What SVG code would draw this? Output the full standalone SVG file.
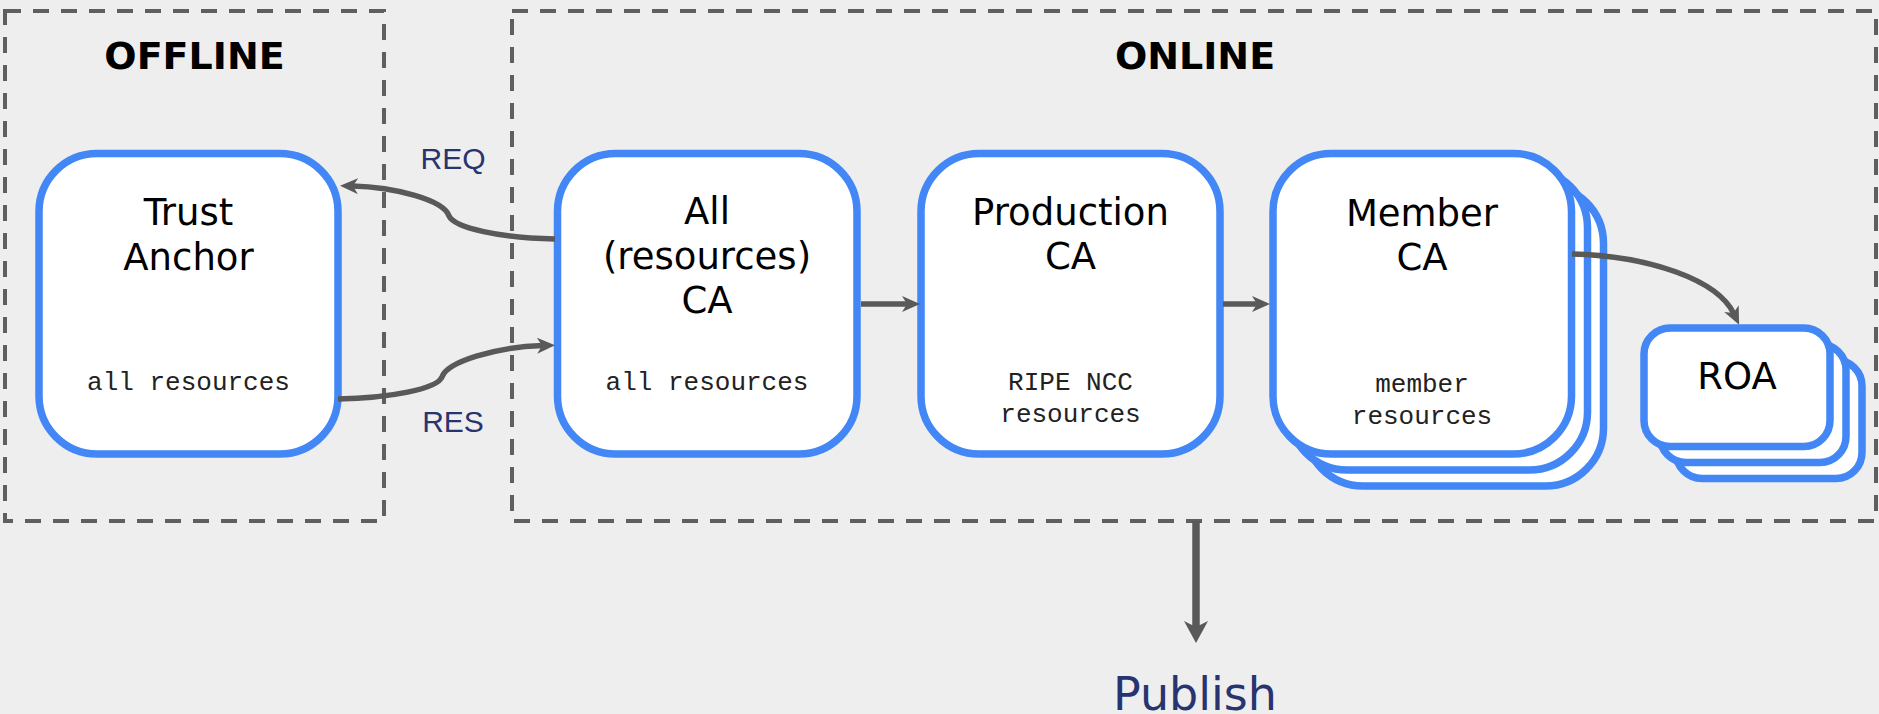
<svg xmlns="http://www.w3.org/2000/svg" width="1879" height="714" viewBox="0 0 1879 714">
<style>
.bg{fill:#eeeeee}
.zone{fill:none;stroke:#5f5f5f;stroke-width:4;stroke-dasharray:16 12}
.box{fill:#ffffff;stroke:#4287f5;stroke-width:7.5}
.title{font-family:"DejaVu Sans",sans-serif;font-weight:bold;font-size:38px;fill:#000;text-anchor:middle}
.name{font-family:"DejaVu Sans",sans-serif;font-size:37px;fill:#000;text-anchor:middle}
.res{font-family:"Liberation Mono",monospace;font-size:26px;fill:#222;text-anchor:middle}
.lbl{font-family:"Liberation Sans",sans-serif;font-size:30px;fill:#283470;text-anchor:middle}
.pub{font-family:"DejaVu Sans",sans-serif;font-size:46px;fill:#283470;text-anchor:middle}
.edge{fill:none;stroke:#595959;stroke-width:5.5}
</style>
<defs>
<marker id="ah" markerUnits="userSpaceOnUse" viewBox="0 0 18 16" refX="6" refY="8" markerWidth="18" markerHeight="16" orient="auto">
<path d="M0,0 L18,8 L0,16 L5,8 Z" fill="#595959"/>
</marker>
<marker id="ahb" markerUnits="userSpaceOnUse" viewBox="0 0 22 24" refX="6" refY="12" markerWidth="22" markerHeight="24" orient="auto">
<path d="M0,0 L22,12 L0,24 L6,12 Z" fill="#595959"/>
</marker>
</defs>
<rect class="bg" x="0" y="0" width="1879" height="714"/>

<g id="offline-zone">
<rect class="zone" x="5" y="11" width="379" height="510"/>
<text class="title" x="194.5" y="69">OFFLINE</text>
</g>
<g id="online-zone">
<rect class="zone" x="512" y="11" width="1364" height="510"/>
<text class="title" x="1195" y="69">ONLINE</text>
</g>

<g id="trust-anchor">
<rect class="box" x="39" y="153.5" width="299" height="300.5" rx="58"/>
<text class="name" x="188.5" y="225">Trust</text>
<text class="name" x="188.5" y="270">Anchor</text>
<text class="res" x="188.5" y="390">all resources</text>
</g>

<g id="all-ca">
<rect class="box" x="557.5" y="153.5" width="299.5" height="300.5" rx="58"/>
<text class="name" x="707" y="224">All</text>
<text class="name" x="707" y="269">(resources)</text>
<text class="name" x="707" y="313">CA</text>
<text class="res" x="707" y="390">all resources</text>
</g>

<g id="production-ca">
<rect class="box" x="921" y="153.5" width="299" height="300.5" rx="58"/>
<text class="name" x="1070.5" y="225">Production</text>
<text class="name" x="1070.5" y="269">CA</text>
<text class="res" x="1070.5" y="390">RIPE NCC</text>
<text class="res" x="1070.5" y="422">resources</text>
</g>

<g id="member-ca">
<rect class="box" x="1305" y="185.5" width="298.5" height="300.5" rx="58"/>
<rect class="box" x="1289" y="169.5" width="298.5" height="300.5" rx="58"/>
<rect class="box" x="1273" y="153.5" width="298.5" height="300.5" rx="58"/>
<text class="name" x="1422" y="226">Member</text>
<text class="name" x="1422" y="270">CA</text>
<text class="res" x="1422" y="392">member</text>
<text class="res" x="1422" y="424">resources</text>
</g>

<g id="roa">
<rect class="box" x="1676" y="360" width="186" height="118.5" rx="26"/>
<rect class="box" x="1660" y="344" width="186" height="118.5" rx="26"/>
<rect class="box" x="1644" y="328" width="186" height="118.5" rx="26"/>
<text class="name" x="1737" y="389">ROA</text>
</g>

<g id="connectors">
<path class="edge" marker-end="url(#ah)" d="M555,239 C500,238 455,228 449,216 C444,200 395,187 352,186"/>
<path class="edge" marker-end="url(#ah)" d="M338,399 C390,398 437,389 442,377 C447,362 495,347 543,345.5"/>
<path class="edge" marker-end="url(#ah)" d="M861,304 L908,304"/>
<path class="edge" marker-end="url(#ah)" d="M1223,304 L1258,304"/>
<path class="edge" marker-end="url(#ah)" d="M1572,254 C1650,256 1718,280 1734,314"/>
<path class="edge" style="stroke-width:7.5" marker-end="url(#ahb)" d="M1196,521 L1196,627"/>
<text class="lbl" x="453" y="169">REQ</text>
<text class="lbl" x="453" y="432">RES</text>
</g>

<g id="publish">
<text class="pub" x="1195" y="710">Publish</text>
</g>
</svg>
